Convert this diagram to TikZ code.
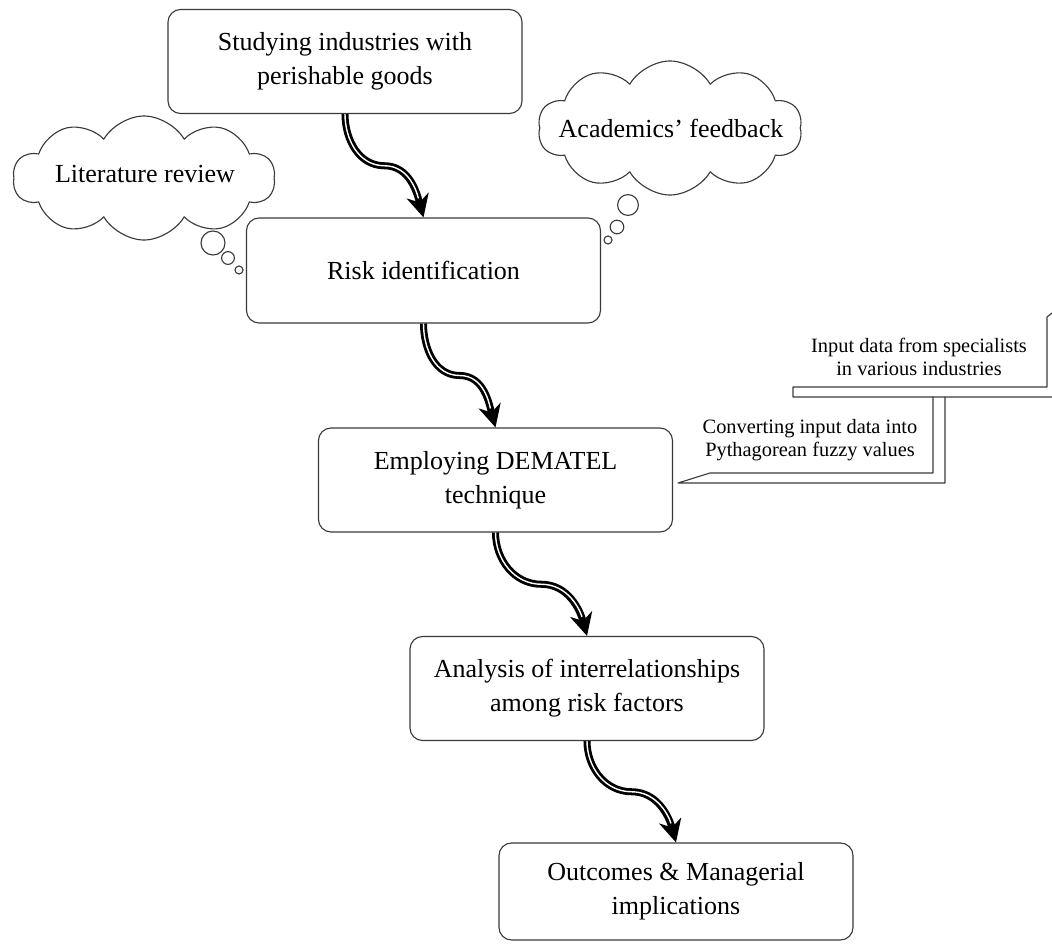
\documentclass[tikz,border=0pt]{standalone}
\usepackage{fontspec}
\setmainfont{Liberation Serif}
\usepackage{xcolor}
\usetikzlibrary{arrows.meta,shapes.symbols,calc}
\newcommand{\boxfont}{\fontsize{18.5}{24}\selectfont}
\newcommand{\notefont}{\fontsize{14.5}{16.5}\selectfont}
\definecolor{edge}{HTML}{3A3A3A}
\tikzset{
  every picture/.style={line join=round, line cap=round, >=Stealth},
  stepbox/.style={draw=edge, line width=0.8pt, rounded corners=9pt, fill=white,
    minimum width=8.85cm, minimum height=2.6cm, align=center, font=\boxfont},
  thought/.style={cloud, draw=edge, line width=0.8pt, cloud puffs=10, cloud puff arc=120,
    cloud ignores aspect, inner sep=0pt},
  bubble/.style={draw=edge, line width=0.8pt},
  callout/.style={draw=edge, line width=0.8pt},
  note/.style={align=center, font=\notefont},
  flow/.style={line width=5pt, line cap=butt, -{Stealth[length=16pt,width=16pt,inset=5pt]},
    postaction={draw=white, line width=1pt, -, shorten >=14pt}},
}

\begin{document}
\begin{tikzpicture}[x=0.025cm, y=-0.025cm]
\useasboundingbox (0,0) rectangle (1052,944);
% thought clouds
\node[thought, minimum width=6.55cm, minimum height=3.1cm] (lit) at (144,178) {};
\node[font=\boxfont] (littext) at (145,174) {Literature review};
\node[thought, minimum width=6.6cm, minimum height=3.35cm] (acad) at (670,128) {};
\node[font=\boxfont] (acadtext) at (671,128) {Academics’ feedback};
\draw[bubble] (213,243) circle[radius=0.3cm];
\draw[bubble] (228,258) circle[radius=0.16cm];
\draw[bubble] (239,270) circle[radius=0.1cm];
\draw[bubble] (628,205) circle[radius=0.26cm];
\draw[bubble] (617,227) circle[radius=0.17cm];
\draw[bubble] (608,240) circle[radius=0.1cm];
% steps
\node[stepbox] (study) at (345,61.5) {Studying industries with\\perishable goods};
\node[stepbox, minimum height=2.625cm] (risk) at (423.5,270.5) {Risk identification};
\node[stepbox] (dematel) at (495.5,480) {Employing DEMATEL\\technique};
\node[stepbox] (analysis) at (587,688.5) {Analysis of interrelationships\\among risk factors};
\node[stepbox, minimum height=2.425cm] (outcome) at (676,891.5) {Outcomes \& Managerial\\implications};
% callouts
\draw[callout] (1052,313) -- (1047,317) -- (1047,387) -- (793,387) -- (793,397) -- (1052,397);
\draw[callout] (933,397) -- (933,473) -- (710,473) -- (678,483) -- (945,483) -- (945,397);
\node[note] (specialists) at (919,357) {Input data from specialists\\in various industries};
\node[note] (fuzzy) at (810,440) {Converting input data into\\Pythagorean fuzzy values};
% wavy arrows
\draw[flow] (study.south) to[out=-90,in=180] ($(study.south)!.5!(risk.north)$) to[out=0,in=105] (risk.north);
\draw[flow] (risk.south) to[out=-90,in=180] ($(risk.south)!.5!(dematel.north)$) to[out=0,in=105] (dematel.north);
\draw[flow] (dematel.south) to[out=-90,in=180] ($(dematel.south)!.5!(analysis.north)$) to[out=0,in=105] (analysis.north);
\draw[flow] (analysis.south) to[out=-90,in=180] ($(analysis.south)!.5!(outcome.north)$) to[out=0,in=105] (outcome.north);
\end{tikzpicture}
\end{document}
